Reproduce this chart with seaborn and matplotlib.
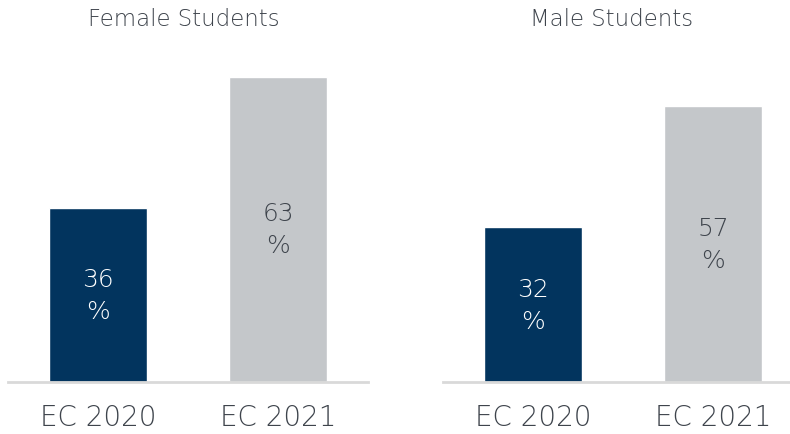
import matplotlib
matplotlib.use("Agg")
import matplotlib.pyplot as plt
import seaborn as sns
import pandas as pd

# Survey data
groups = ["Female Students", "Male Students"]
years = ["EC 2020", "EC 2021"]
female_pct = [36, 63]
male_pct = [32, 57]

navy = "#02345E"
grey = "#C4C7CA"
text_col = "#3E444C"
axis_col = "#D9D9D9"

sns.set_theme(style="white")
plt.rcParams["font.family"] = ["DejaVu Sans"]

W, H = 790, 435
fig = plt.figure(figsize=(W / 100, H / 100), dpi=100)

def px_axes(left, right, bottom_y, top_y):
    return fig.add_axes([left / W, 1 - bottom_y / H, (right - left) / W, (bottom_y - top_y) / H])

panels = [
    (groups[0], female_pct, (8, 368), 184),
    (groups[1], male_pct, (443, 803), 612),
]

for title, vals, (l, r), title_x in panels:
    ax = px_axes(l, r, 383, 44)
    df = pd.DataFrame({"year": years, "pct": vals})
    sns.barplot(data=df, x="year", y="pct", hue="year",
                palette=[navy, grey], width=0.54, legend=False,
                saturation=1, ax=ax)
    ax.set_ylim(0, 70)
    ax.set_xlim(-0.5, 1.5)
    ax.set_xlabel("")
    ax.set_ylabel("")
    ax.set_yticks([])
    for s in ["top", "right", "left"]:
        ax.spines[s].set_visible(False)
    ax.spines["bottom"].set_color(axis_col)
    ax.spines["bottom"].set_linewidth(2)
    ax.tick_params(axis="x", length=0, pad=15, labelsize=20, labelcolor=text_col)
    for lab in ax.get_xticklabels():
        lab.set_fontweight("light")
    for i, v in enumerate(vals):
        ax.text(i, v / 2, f"{v}\n%", ha="center", va="center",
                fontsize=18, fontweight="light", linespacing=1.42,
                color="white" if i == 0 else text_col)
    fig.text(title_x / W, 1 - 19 / H, title, ha="center", va="center",
             fontsize=16.5, fontweight="light", color=text_col)

fig.savefig("out.png", dpi=100)
